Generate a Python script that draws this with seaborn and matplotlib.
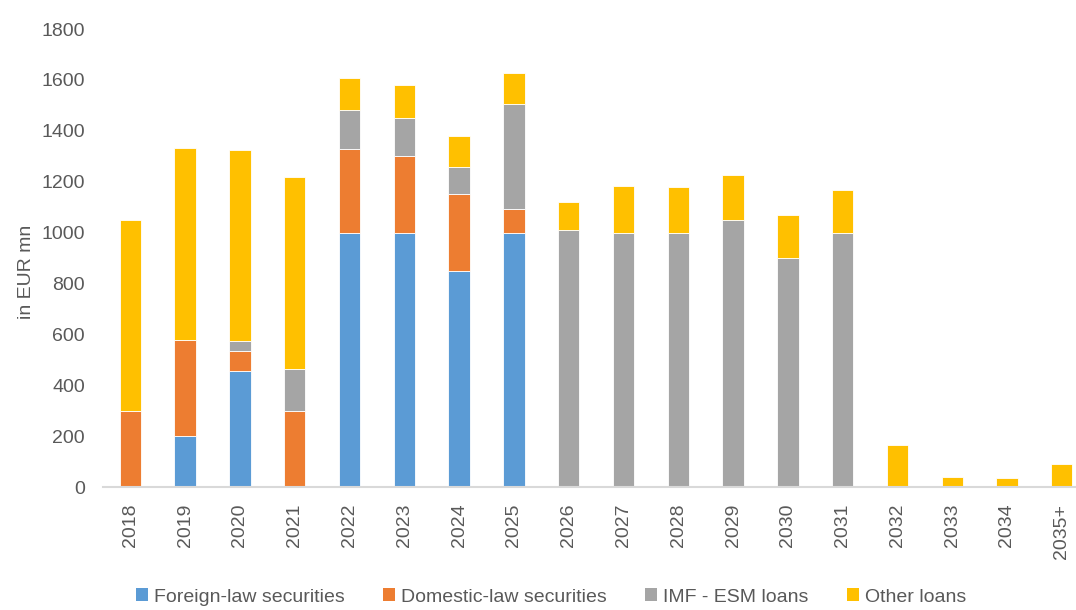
import numpy as np
import pandas as pd
import seaborn as sns
import matplotlib.pyplot as plt
from matplotlib.patches import Patch

years = ['2018', '2019', '2020', '2021', '2022', '2023', '2024', '2025', '2026',
         '2027', '2028', '2029', '2030', '2031', '2032', '2033', '2034', '2035+']
foreign_law = [0, 200, 456, 0, 1000, 1000, 850, 1000, 0, 0, 0, 0, 0, 0, 0, 0, 0, 0]
domestic_law = [300, 378, 78, 300, 330, 300, 302, 93, 0, 0, 0, 0, 0, 0, 0, 0, 0, 0]
imf_esm = [0, 0, 38, 164, 150, 150, 106, 411, 1010, 1000, 1000, 1050, 900, 1000, 0, 0, 0, 0]
other_loans = [750, 756, 751, 754, 128, 129, 123, 122, 111, 182, 180, 178, 170, 169, 164, 39, 35, 89]

series_names = ['Foreign-law securities', 'Domestic-law securities', 'IMF - ESM loans', 'Other loans']
series_values = [foreign_law, domestic_law, imf_esm, other_loans]
colors = ['#5B9BD5', '#ED7D31', '#A5A5A5', '#FFC000']

sns.set_style('white')
plt.rcParams['font.family'] = ['Liberation Sans', 'DejaVu Sans']

fig = plt.figure(figsize=(10.76, 6.10), dpi=100)
ax = fig.add_axes([103 / 1076, 123 / 610, 973 / 1076, 458 / 610])

# stack the four series bar by bar
bottom = np.zeros(len(years))
for name, vals, col in zip(series_names, series_values, colors):
    df = pd.DataFrame({'year': years, 'value': vals})
    sns.barplot(data=df, x='year', y='value', order=years, color=col, width=0.39,
                bottom=bottom, errorbar=None, edgecolor='white', linewidth=0.6,
                saturation=1, ax=ax)
    bottom = bottom + np.array(vals)

ax.set_ylim(0, 1800)
ax.set_xlim(-0.5, 17.26)
ax.set_yticks(range(0, 1801, 200))
ax.tick_params(axis='y', labelsize=14, labelcolor='#595959', length=0, pad=13)
ax.tick_params(axis='x', labelsize=14, labelcolor='#595959', length=0, pad=12, rotation=90)
ax.set_xlabel('')
ax.set_ylabel('in EUR mn', fontsize=14, color='#595959')
ax.yaxis.set_label_coords(-0.07, 0.47)

for side in ['top', 'right', 'left']:
    ax.spines[side].set_visible(False)
ax.spines['bottom'].set_color('#D9D9D9')
ax.spines['bottom'].set_linewidth(1.5)

handles = [Patch(facecolor=c, edgecolor='none') for c in colors]
fig.legend(handles, series_names, loc='center', bbox_to_anchor=(0.512, 13 / 610), ncol=4,
           frameon=False, fontsize=14, labelcolor='#595959', handlelength=0.6,
           handleheight=0.6, handletextpad=0.3, columnspacing=2.0)

fig.savefig('out.png', dpi=100)
